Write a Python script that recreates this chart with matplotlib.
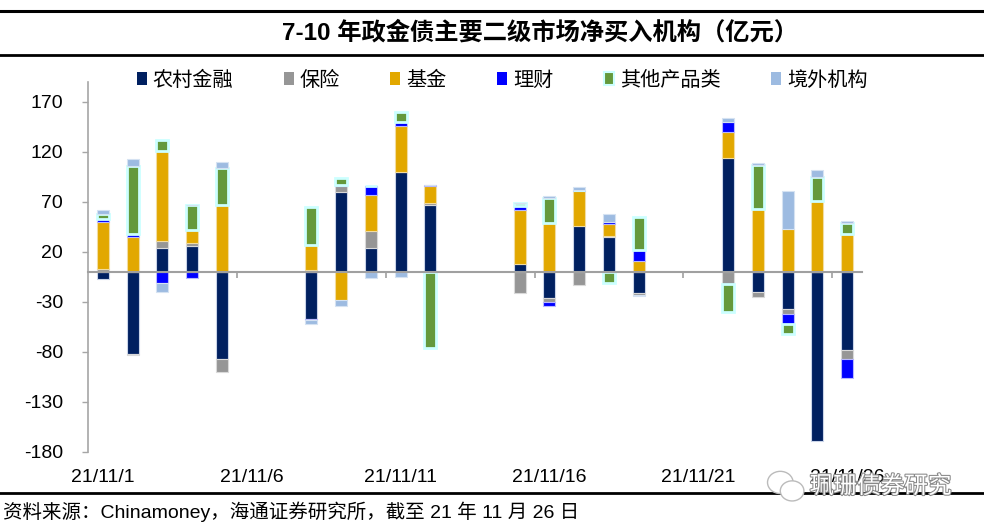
import pandas as pd
import matplotlib.pyplot as plt
import matplotlib.patheffects as pe
from matplotlib.lines import Line2D
from matplotlib.patches import Patch, Ellipse
from matplotlib.transforms import blended_transform_factory

plt.rcParams['font.family'] = ['Liberation Sans', 'Noto Sans CJK SC']
plt.rcParams['axes.unicode_minus'] = False

# trading days
dates = ['2021-11-01', '2021-11-02', '2021-11-03', '2021-11-04', '2021-11-05',
         '2021-11-08', '2021-11-09', '2021-11-10', '2021-11-11', '2021-11-12',
         '2021-11-15', '2021-11-16', '2021-11-17', '2021-11-18', '2021-11-19',
         '2021-11-22', '2021-11-23', '2021-11-24', '2021-11-25', '2021-11-26']

names = ['农村金融', '保险', '基金', '理财', '其他产品类', '境外机构']
rural = [-7, -82, 24, 26, -87, -47, 80, 24, 100, 67, 8, -26, 46, 35, -21, 114, -20, -37, -169, -78]
insurance = [3, -1, 7, 3, -13, 2, 6, 17, 0, 2, -21, -4, -13, 1, -2, -12, -5, -5, 0, -9]
funds = [47, 35, 90, 13, 67, 25, -28, 36, 46, 17, 54, 49, 35, 12, 11, 26, 63, 43, 71, 38]
wealth = [3, 3, -11, -6, 0, -1, 1, 9, 4, 1, 4, -4, 1, 2, 11, 10, 0, -10, 0, -19]
others = [5, 68, 11, 25, 37, 38, 7, 0, 10, -76, 3, 25, 0, -11, 33, -28, 44, -10, 24, 11]
foreign = [4, 7, -9, 0, 6, -4, -6, -6, -5, 0, 0, 2, 3, 8, -1, 4, 2, 38, 7, 2]

tick_labels = ['21/11/1', '21/11/6', '21/11/11', '21/11/16', '21/11/21', '21/11/26']

colors = ['#002060', '#969696', '#E2A800', '#0000FF', '#64993C', '#9DBBE1']
edges = ['#C9D4E8', '#D9D9D9', '#F2DCA0', '#B8B8FF', '#CCFFFF', '#D5E2F2']
widths = [0.8, 0.8, 0.8, 0.8, 2.0, 0.8]

day0 = pd.Timestamp('2021-11-01')
x = (pd.to_datetime(dates) - day0).days.to_numpy()
tick_pos = [(pd.to_datetime('20' + t, format='%Y/%m/%d') - day0).days for t in tick_labels]

fig = plt.figure(figsize=(9.84, 5.29), dpi=100)
ax = fig.add_axes([0.0894, 0.1456, 0.7866, 0.6994])

pos_base = [0.0] * len(dates)
neg_base = [0.0] * len(dates)
series = [rural, insurance, funds, wealth, others, foreign]
for vals, c, ec, lw in zip(series, colors, edges, widths):
    bottoms = []
    for i, v in enumerate(vals):
        if v >= 0:
            bottoms.append(pos_base[i])
            pos_base[i] += v
        else:
            bottoms.append(neg_base[i])
            neg_base[i] += v
    ax.bar(x, vals, bottom=bottoms, width=0.4, color=c, edgecolor=ec, linewidth=lw, zorder=2)

ax.set_xlim(-0.5, 25.5)
ax.set_ylim(-180, 190)
ax.set_yticks(range(-180, 171, 50))
ax.tick_params(axis='y', direction='out', length=4.3, width=1, color='#A6A6A6',
               labelsize=14, pad=13.5)

for s in ['top', 'right']:
    ax.spines[s].set_visible(False)
ax.spines['left'].set_color('#A6A6A6')
ax.spines['left'].set_linewidth(1.2)
ax.spines['bottom'].set_position(('data', 0))
ax.spines['bottom'].set_color('#A0A0A0')
ax.spines['bottom'].set_linewidth(1.5)
ax.spines['bottom'].set_zorder(3)

ax.set_xticks([])
ax.set_xticks([p - 0.5 for p in tick_pos[1:]], minor=True)
ax.tick_params(axis='x', which='minor', direction='out', length=4.3, width=1.2, color='#A0A0A0')

trans = blended_transform_factory(ax.transData, ax.transAxes)
for p, t in zip(tick_pos, tick_labels):
    ax.text(p, -0.07, t, transform=trans, ha='center', va='center', fontsize=14)

handles = [Patch(facecolor=c, edgecolor=(ec if i == 4 else c), linewidth=(1.5 if i == 4 else 0))
           for i, (c, ec) in enumerate(zip(colors, edges))]
ax.legend(handles, names, ncol=6, loc='center', bbox_to_anchor=(0.535, 1.005),
          frameon=False, fontsize=14.5, handlelength=0.5, handleheight=0.65,
          handletextpad=0.3, columnspacing=2.5, borderaxespad=0)

fig.text(0.549, 1 - 33 / 529, '7-10 年政金债主要二级市场净买入机构（亿元）',
         ha='center', va='center', fontsize=17.5, fontweight='bold')

for yy, lw in [(11, 2.2), (55, 2.0), (493, 2.0)]:
    fig.add_artist(Line2D([0, 1], [1 - yy / 529, 1 - yy / 529], transform=fig.transFigure,
                          color='black', linewidth=lw))

fig.text(0.003, 1 - 512 / 529, '资料来源：Chinamoney，海通证券研究所，截至 21 年 11 月 26 日',
         ha='left', va='center', fontsize=14)

# watermark
for cx, cy, w, h in [(0.793, 0.088, 0.026, 0.042), (0.805, 0.072, 0.024, 0.038)]:
    fig.add_artist(Ellipse((cx, cy), w, h, transform=fig.transFigure, facecolor='white',
                           edgecolor='#BBBBBB', linewidth=1, zorder=5))
fig.text(0.895, 1 - 487 / 529, '珮珊债券研究', ha='center', va='center', fontsize=17,
         color='white', zorder=6,
         path_effects=[pe.withStroke(linewidth=1.5, foreground='#888888')])

plt.savefig('out.png')
